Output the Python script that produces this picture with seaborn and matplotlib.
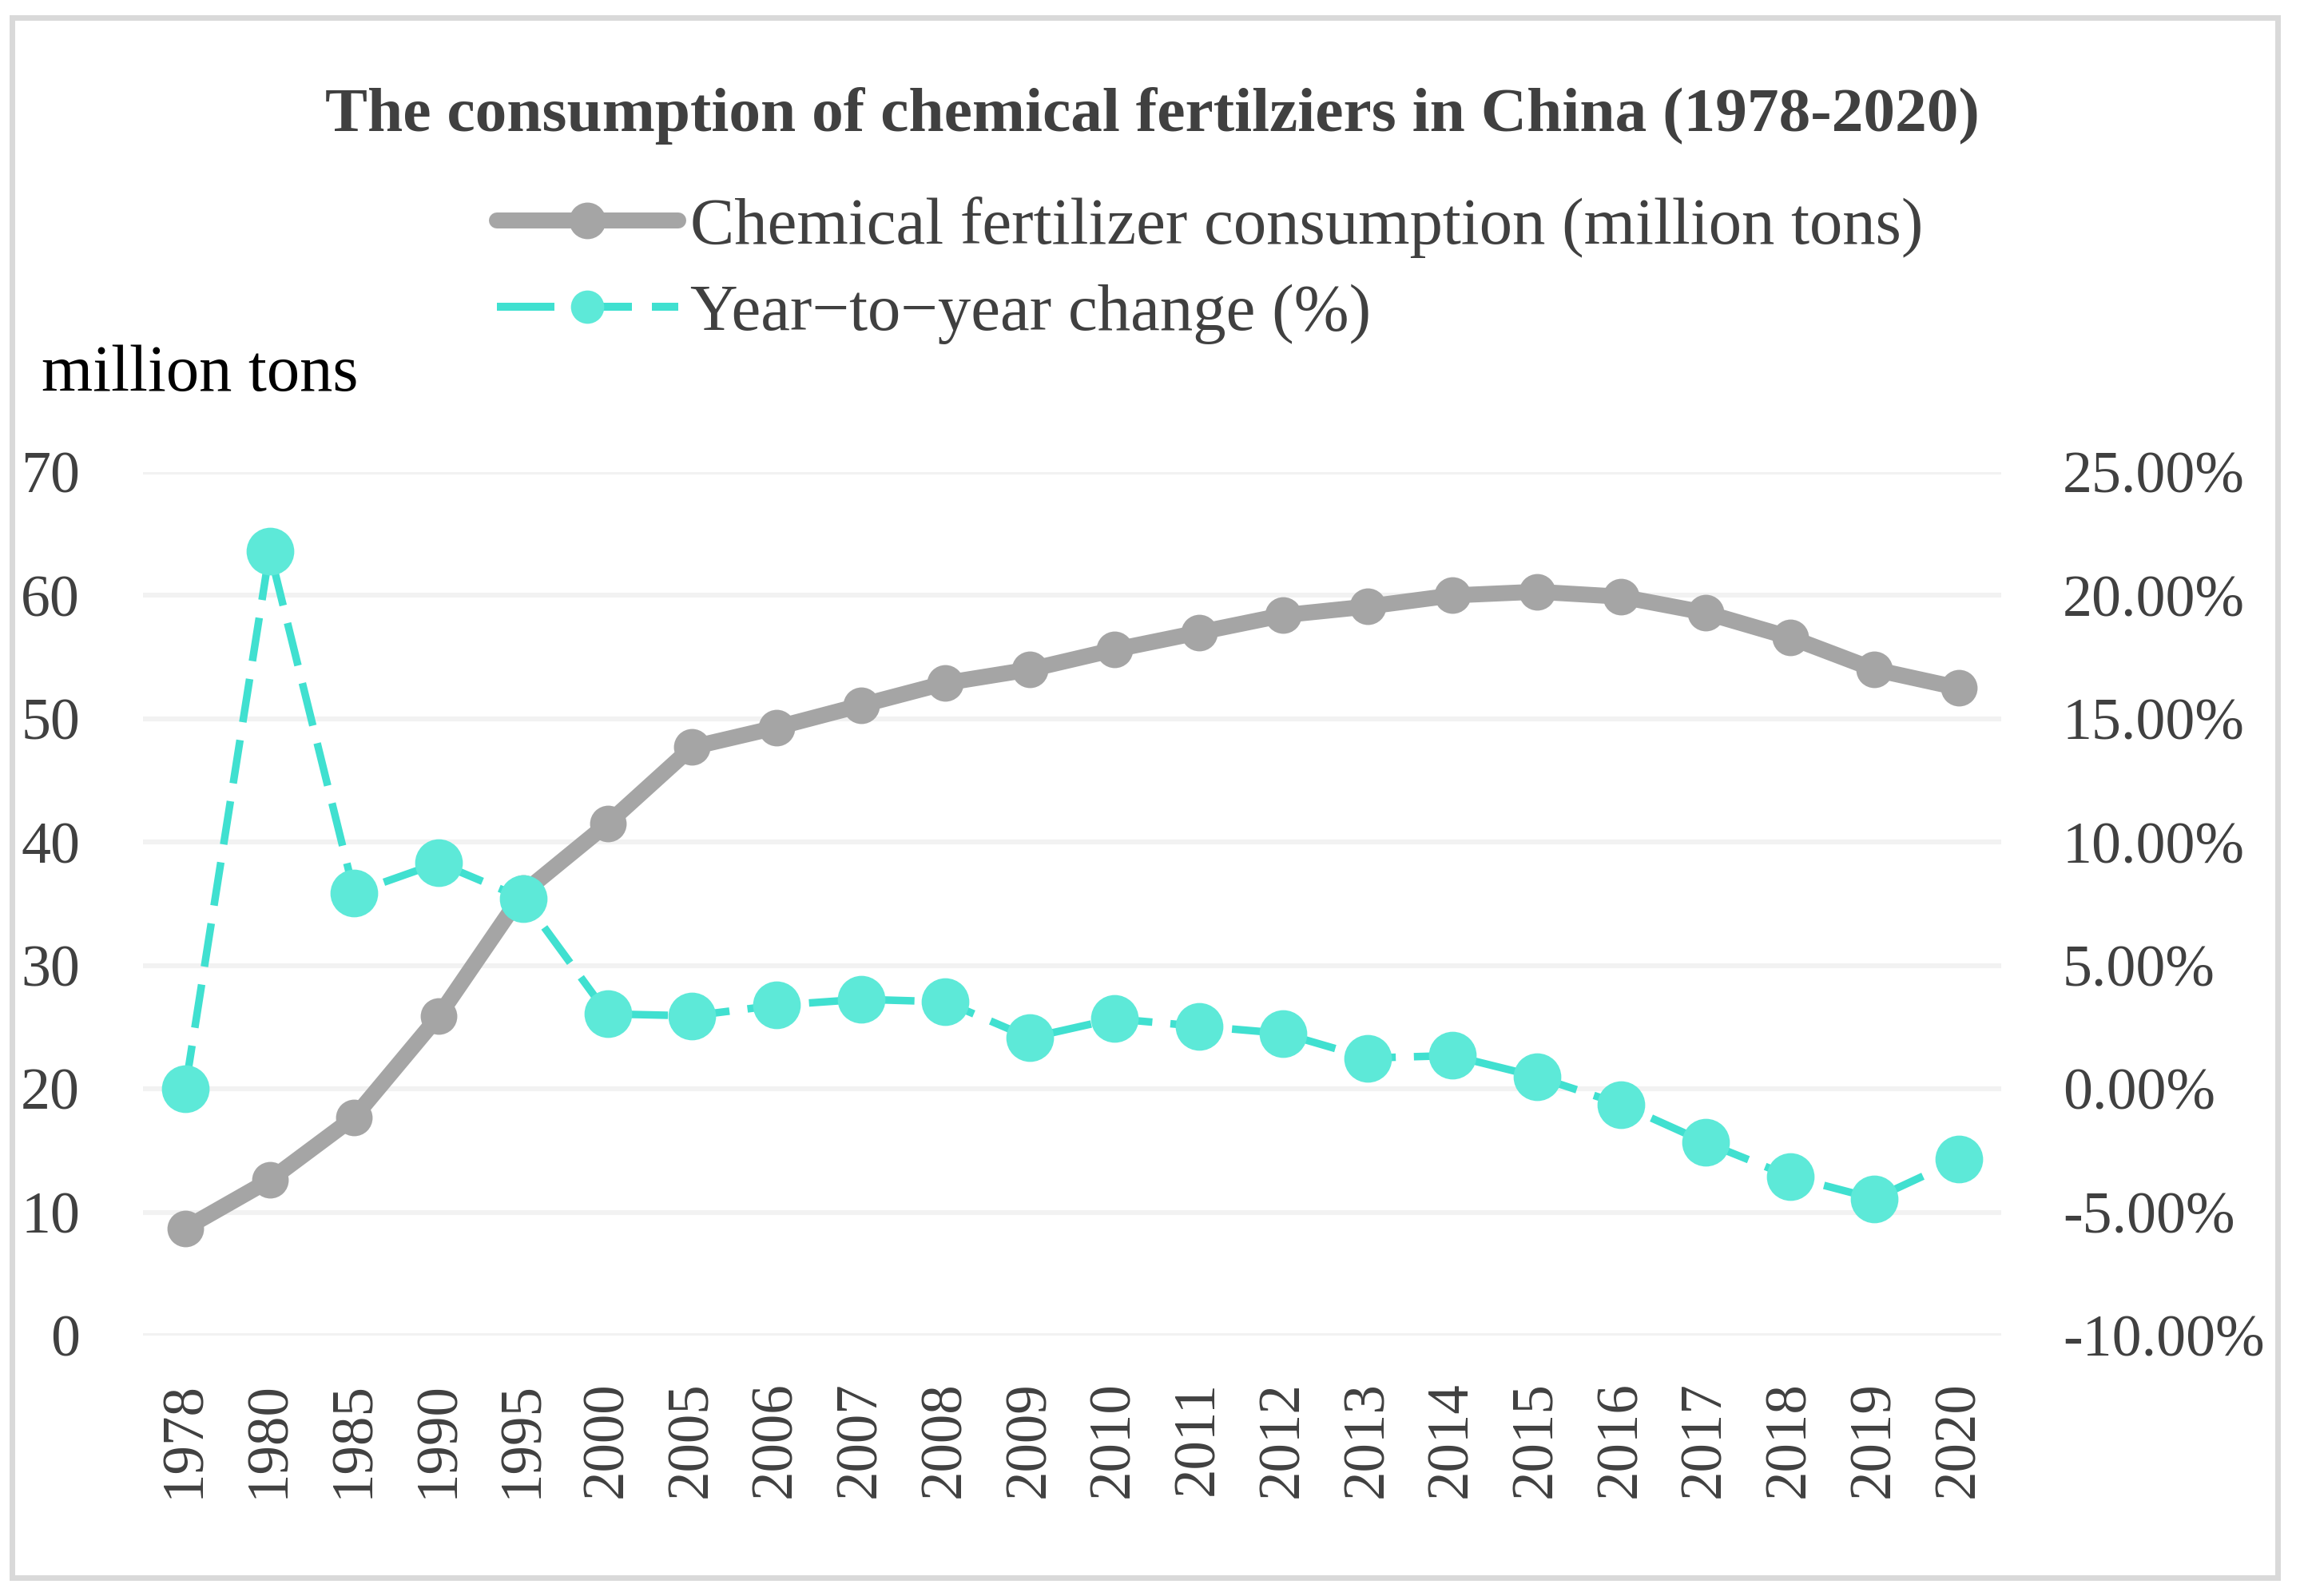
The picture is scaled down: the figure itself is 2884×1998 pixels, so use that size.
import matplotlib
matplotlib.use("Agg")
import matplotlib.pyplot as plt
import matplotlib.patches as mpatches
from matplotlib.lines import Line2D
from matplotlib.ticker import FuncFormatter, FixedLocator
import seaborn as sns
import pandas as pd

# ---------------- data ----------------
years = ['1978', '1980', '1985', '1990', '1995', '2000', '2005', '2006', '2007',
         '2008', '2009', '2010', '2011', '2012', '2013', '2014', '2015', '2016',
         '2017', '2018', '2019', '2020']
consumption = [8.7, 12.6, 17.7, 25.9, 35.9, 41.5, 47.7, 49.3, 51.1, 52.9, 54.0,
               55.6, 57.0, 58.4, 59.1, 60.0, 60.3, 59.9, 58.6, 56.6, 54.0, 52.5]
yoy_change = [0.0, 21.8, 7.95, 9.16, 7.72, 3.04, 2.96, 3.39, 3.63, 3.53, 2.07,
              2.84, 2.54, 2.25, 1.25, 1.35, 0.5, -0.63, -2.17, -3.55, -4.45, -2.86]
left_ticks = [0, 10, 20, 30, 40, 50, 60, 70]
right_ticks = [-10, -5, 0, 5, 10, 15, 20, 25]

title = "The consumption of chemical fertilziers in China (1978-2020)"
label_cons = "Chemical fertilizer consumption (million tons)"
label_yoy = "Year\u2212to\u2212year change (%)"
unit_label = "million tons"

df = pd.DataFrame({"year": years, "consumption": consumption, "yoy": yoy_change})

# ---------------- style ----------------
sns.set_theme(style="white")
plt.rcParams['font.family'] = ['Liberation Serif', 'DejaVu Serif']
plt.rcParams['axes.unicode_minus'] = False

GRAY = "#A5A5A5"
TEAL_LINE = "#40E0D0"
TEAL_MARK = "#5DE9D8"
TXT = "#404040"
GRID = "#F2F2F2"

W, H, DPI = 2884, 1998, 200
fig = plt.figure(figsize=(W / DPI, H / DPI), dpi=DPI)
fig.patch.set_facecolor("white")

ax = fig.add_axes([179 / W, 1 - 1672 / H, (2505 - 179) / W, (1672 - 591) / H])
ax2 = ax.twinx()

sns.lineplot(data=df, x="year", y="consumption", ax=ax, color=GRAY, linewidth=7.2,
             marker="o", markersize=16.5, markeredgewidth=0, markerfacecolor=GRAY,
             solid_capstyle="round", solid_joinstyle="round", sort=False, zorder=3)
sns.lineplot(data=df, x="year", y="yoy", ax=ax2, color=TEAL_LINE, linewidth=3.4,
             marker="o", markersize=21.5, markeredgewidth=0, markerfacecolor=TEAL_MARK,
             sort=False, zorder=3)
for ln in ax2.lines:
    ln.set_linestyle((0, (5.8, 2.4)))

# axes limits / ticks
ax.set_xlim(-0.5, len(years) - 0.5)
ax.set_ylim(0, 70)
ax2.set_ylim(-10, 25)
ax.yaxis.set_major_locator(FixedLocator(left_ticks))
ax2.yaxis.set_major_locator(FixedLocator(right_ticks))
ax2.yaxis.set_major_formatter(FuncFormatter(lambda v, p: f"{v:.2f}%"))

ax.grid(True, axis="y", color=GRID, linewidth=2.2)
ax.grid(False, axis="x")
ax2.grid(False)
ax.set_axisbelow(True)
ax.set_xlabel("")
ax.set_ylabel("")
ax2.set_ylabel("")
for a in (ax, ax2):
    for s in a.spines.values():
        s.set_visible(False)
    a.set_facecolor("none")

ax.tick_params(axis="y", length=0, pad=28.4, labelsize=26.6, labelcolor=TXT)
ax2.tick_params(axis="y", length=0, pad=27.7, labelsize=26.6, labelcolor=TXT)
ax.tick_params(axis="x", length=0, pad=20.5, labelsize=26.3, labelcolor=TXT)
for lab in ax.get_xticklabels():
    lab.set_rotation(90)
    lab.set_ha("center")
    lab.set_va("top")
ax2.tick_params(axis="x", length=0)

# title & unit label
fig.text(0.5, 1 - 164 / H, title, ha="center", va="baseline", fontsize=28.6,
         fontweight="bold", color=TXT)
fig.text(52 / W, 1 - 489 / H, unit_label, ha="left", va="baseline", fontsize=29.7,
         color="black")

# legend (proxy handles)
h1 = Line2D([], [], color=GRAY, linewidth=7.2, marker="o", markersize=16.5,
            markeredgewidth=0, solid_capstyle="round")
h2 = Line2D([], [], color=TEAL_LINE, linewidth=3.6, marker="o", markersize=15,
            markeredgewidth=0, markerfacecolor=TEAL_MARK, linestyle=(0, (7.2, 2.5)))
fig.legend([h1, h2], [label_cons, label_yoy], loc="upper left",
           bbox_to_anchor=(622 / W, 1 - 246 / H), frameon=False, fontsize=29.8,
           handlelength=2.74, handletextpad=0.18, labelspacing=0.39,
           borderpad=0, borderaxespad=0, labelcolor=TXT)

# outer border
fig.patches.append(mpatches.Rectangle((14.5 / W, 1 - 1975 / H),
                                      (2851 - 14.5) / W, (1975 - 21.5) / H,
                                      transform=fig.transFigure, fill=False,
                                      edgecolor="#D9D9D9", linewidth=2.5))

fig.savefig("out.png", dpi=DPI, facecolor="white")
